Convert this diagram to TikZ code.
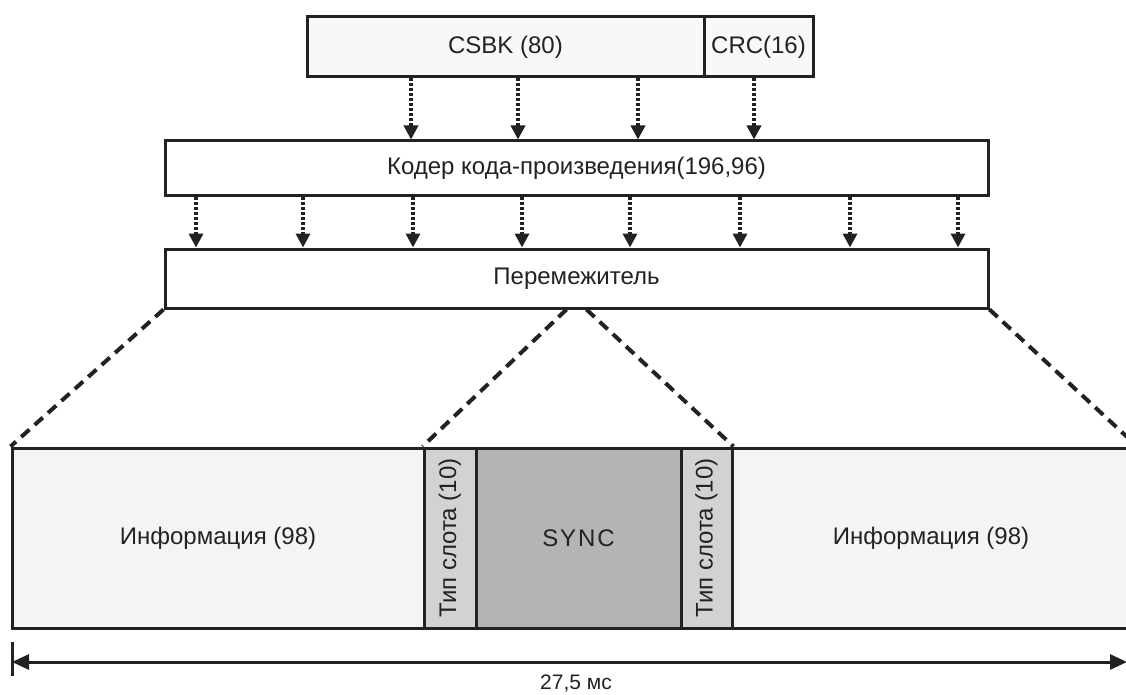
\documentclass[tikz,border=0pt]{standalone}
\usepackage{fontspec}
\setmainfont{Liberation Sans}
\usetikzlibrary{arrows.meta}
\definecolor{ink}{HTML}{222222}
\definecolor{boxfill}{HTML}{F8F8F8}
\definecolor{infofill}{HTML}{F4F4F4}
\definecolor{slotfill}{HTML}{D2D2D2}
\definecolor{syncfill}{HTML}{B4B4B4}
\tikzset{
  box/.style={draw=ink, line width=3pt, fill=boxfill, inner sep=0pt, text=ink,
    font=\fontsize{24}{28}\selectfont},
  dotarrow/.style={draw=ink, line width=3.5pt, dash pattern=on 3pt off 2pt,
    -{Triangle[width=14pt,length=14pt]}},
  zoomline/.style={draw=ink, line width=4pt, dash pattern=on 11pt off 7pt},
  dimline/.style={draw=ink, line width=3pt, {Triangle[width=15pt,length=17pt]}-{Triangle[width=15pt,length=17pt]}},
}
\begin{document}
\begin{tikzpicture}[x=1pt,y=-1pt]
\useasboundingbox (0,0) rectangle (1126,695);
% top row
\node[box, minimum width=397pt, minimum height=60pt] (csbk) at (505.5,47) {CSBK (80)};
\node[box, minimum width=109pt, minimum height=60pt] (crc) at (758.5,47) {CRC(16)};
% coder
\node[box, fill=white, minimum width=823pt, minimum height=54pt] (coder) at (576.5,168) {Кодер кода-произведения(196,96)};
% interleaver
\node[box, fill=white, minimum width=823pt, minimum height=59pt] (inter) at (576.5,278.5) {Перемежитель};
% frame
\node[box, fill=infofill, minimum width=412pt, minimum height=180pt] (info1) at (218,538) {Информация (98)};
\node[box, fill=slotfill, minimum width=52pt, minimum height=180pt] (slot1) at (450,538) {};
\node[box, fill=syncfill, minimum width=205pt, minimum height=180pt] (sync) at (578.5,538) {\addfontfeature{LetterSpace=8}SYNC};
\node[box, fill=slotfill, minimum width=51pt, minimum height=180pt] (slot2) at (706.5,538) {};
\node[box, fill=infofill, minimum width=398pt, minimum height=180pt] (info2) at (931,538) {Информация (98)};
\node[text=ink, font=\fontsize{24}{28}\selectfont, rotate=90] (slot1t) at (slot1.center) {Тип слота (10)};
\node[text=ink, font=\fontsize{24}{28}\selectfont, rotate=90] (slot2t) at (slot2.center) {Тип слота (10)};
% arrows CSBK/CRC -> coder
\foreach \x/\src in {411/csbk,518/csbk,638/csbk,754/crc}
  \draw[dotarrow] (\src.south -| \x,0) -- (coder.north -| \x,0);
% arrows coder -> interleaver
\foreach \x in {196,303,413,522,630,740,850,958}
  \draw[dotarrow] (coder.south -| \x,0) -- (inter.north -| \x,0);
% zoom lines
\coordinate (rightend) at (1139,448);
\draw[zoomline] (inter.south west) -- (info1.north west);
\draw[zoomline] (inter.south east) -- (rightend);
\draw[zoomline] ([xshift=-10pt]inter.south) -- (slot1.north west);
\draw[zoomline] ([xshift=10pt]inter.south) -- (slot2.north east);
% dimension
\coordinate (dl) at (12,662);
\coordinate (dr) at (1127,662);
\coordinate (tt) at (12,642);
\coordinate (tb) at (12,676);
\draw[draw=ink, line width=3pt] (tt) -- (tb);
\draw[dimline] (dl) -- (dr);
\node[text=ink, font=\fontsize{21}{24}\selectfont, anchor=base] (dur) at (576,689) {27,5 мс};
\end{tikzpicture}
\end{document}
